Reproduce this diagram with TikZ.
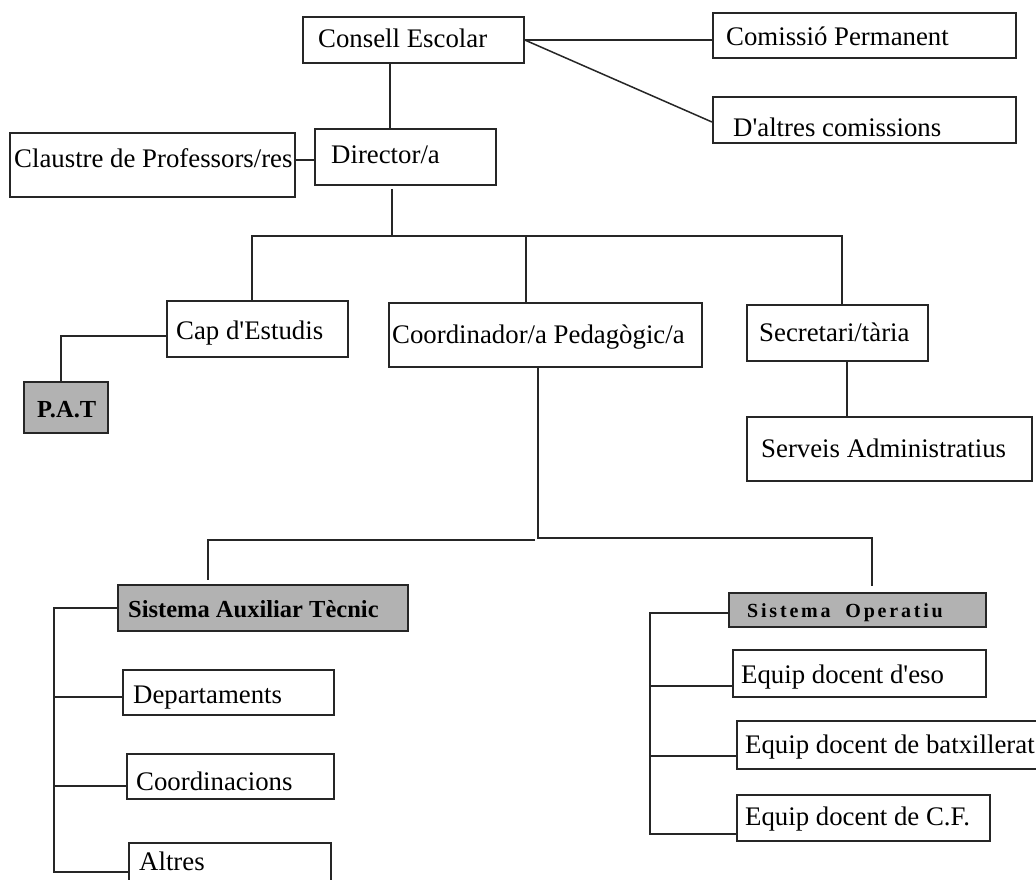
\documentclass[tikz,border=0pt]{standalone}
\usepackage{fontspec}
\setmainfont{Liberation Serif}
\newcommand\apos{\textquotesingle}
\definecolor{inkc}{HTML}{262626}
\definecolor{shade}{HTML}{B2B2B2}
\tikzset{
  orgbox/.style={draw=inkc, line width=1.8pt, fill=white, inner sep=0pt, anchor=north west},
  greybox/.style={orgbox, fill=shade},
  lbl/.style={anchor=base west, inner sep=0pt, font=\fontsize{26.8}{31}\selectfont},
  blbl/.style={lbl, font=\fontsize{24.5}{30}\selectfont\bfseries},
  link/.style={draw=inkc, line width=1.8pt},
}
\begin{document}
\begin{tikzpicture}[x=1pt, y=-1pt]
\useasboundingbox (0,0) rectangle (1036,879);
\clip (0,0) rectangle (1036,879);
\fill[white] (0,0) rectangle (1036,879);

% boxes (top-left corner, width x height in px)
\node[orgbox, minimum width=221pt, minimum height=46pt] (consell) at (302,16) {};
\node[orgbox, minimum width=303pt, minimum height=45pt] (comperm) at (712,12) {};
\node[orgbox, minimum width=303pt, minimum height=46pt] (daltres) at (712,96) {};
\node[orgbox, minimum width=181pt, minimum height=56pt] (director) at (314,128) {};
\node[orgbox, minimum width=285pt, minimum height=64pt] (claustre) at (9,132) {};
\node[orgbox, minimum width=181pt, minimum height=56pt] (cap) at (166,300) {};
\node[greybox, minimum width=84pt, minimum height=51pt] (pat) at (23,381) {};
\node[orgbox, minimum width=313pt, minimum height=64pt] (coord) at (388,302) {};
\node[orgbox, minimum width=181pt, minimum height=56pt] (secret) at (746,304) {};
\node[orgbox, minimum width=285pt, minimum height=64pt] (serveis) at (746,416) {};
\node[greybox, minimum width=290pt, minimum height=46pt] (sat) at (117,584) {};
\node[orgbox, minimum width=211pt, minimum height=45pt] (dept) at (122,669) {};
\node[orgbox, minimum width=207pt, minimum height=45pt] (coordin) at (126,753) {};
\node[orgbox, minimum width=202pt, minimum height=60pt] (altres) at (128,842) {};
\node[greybox, minimum width=257pt, minimum height=34pt] (so) at (728,592) {};
\node[orgbox, minimum width=253pt, minimum height=47pt] (eso) at (732,649) {};
\node[orgbox, minimum width=320pt, minimum height=48pt] (batx) at (736,720) {};
\node[orgbox, minimum width=253pt, minimum height=46pt] (cf) at (736,794) {};

% labels
\node[lbl] (consellT) at (318,47) {Consell Escolar};
\node[lbl] (compermT) at (726,45) {Comissió Permanent};
\node[lbl] (daltresT) at (733,136) {D\apos altres comissions};
\node[lbl] (directorT) at (331,163) {Director/a};
\node[lbl] (claustreT) at (14,167) {Claustre de Professors/res};
\node[lbl] (capT) at (176,339) {Cap d\apos Estudis};
\node[blbl] (patT) at (37,417) {P.A.T};
\node[lbl] (coordT) at (392,343) {Coordinador/a Pedagògic/a};
\node[lbl] (secretT) at (759,341) {Secretari/tària};
\node[lbl] (serveisT) at (761,457) {Serveis Administratius};
\node[blbl] (satT) at (128,617) {Sistema Auxiliar Tècnic};
\node[lbl] (deptT) at (133,703) {Departaments};
\node[lbl] (coordinT) at (136,790) {Coordinacions};
\node[lbl] (altresT) at (139,870) {Altres};
\node[anchor=base west, inner sep=0pt,
      font=\fontsize{20}{24}\selectfont\bfseries\addfontfeature{LetterSpace=14}]
      (soT) at (747,617) {Sistema\hspace{7pt} Operatiu};
\node[lbl] (esoT) at (741,683) {Equip docent d\apos eso};
\node[lbl] (batxT) at (745,753) {Equip docent de batxillerat};
\node[lbl] (cfT) at (745,825) {Equip docent de C.F.};

% bus points
\coordinate (dirbus) at (392,236);
\coordinate (pedbus) at (538,538);
\coordinate (pedbusL) at (535,540);
\coordinate (satbus) at (54,872);
\coordinate (sobus) at (650,834);

% connectors: upper part
\draw[link] ([xshift=88pt]consell.south west) -- ([xshift=76pt]director.north west);
\draw[link] ([yshift=-28pt]claustre.north east) -- ([yshift=-32pt]director.north west);
\draw[link] ([yshift=-24pt]consell.north east) -- ([yshift=-28pt]comperm.north west);
\draw[link, line width=1.5pt] ([yshift=-24pt]consell.north east) -- ([yshift=-26pt]daltres.north west);

% director to the three branches
\draw[link] ([xshift=78pt, yshift=-3pt]director.south west) -- (dirbus);
\draw[link] ([xshift=86pt]cap.north west) |- (dirbus) -| ([xshift=96pt]secret.north west);
\draw[link] ([xshift=138pt]coord.north west) |- (dirbus);
\draw[link] ([yshift=-36pt]cap.north west) -| ([xshift=38pt]pat.north west);
\draw[link] ([xshift=101pt]secret.south west) -- ([xshift=101pt]serveis.north west);

% pedagogic coordinator to both systems
\draw[link] ([xshift=150pt]coord.south west) -- (pedbus) -| ([xshift=144pt, yshift=6pt]so.north west);
\draw[link] (pedbusL) -| ([xshift=91pt, yshift=4pt]sat.north west);

% auxiliary technical system
\draw[link] ([yshift=-24pt]sat.north west) -| (satbus) -- ([yshift=-30pt]altres.north west);
\draw[link] ([yshift=-28pt]dept.north west) -| (satbus);
\draw[link] ([yshift=-33pt]coordin.north west) -| (satbus);

% operating system
\draw[link] ([yshift=-21pt]so.north west) -| (sobus) -- ([yshift=-40pt]cf.north west);
\draw[link] ([yshift=-37pt]eso.north west) -| (sobus);
\draw[link] ([yshift=-36pt]batx.north west) -| (sobus);
\end{tikzpicture}
\end{document}
